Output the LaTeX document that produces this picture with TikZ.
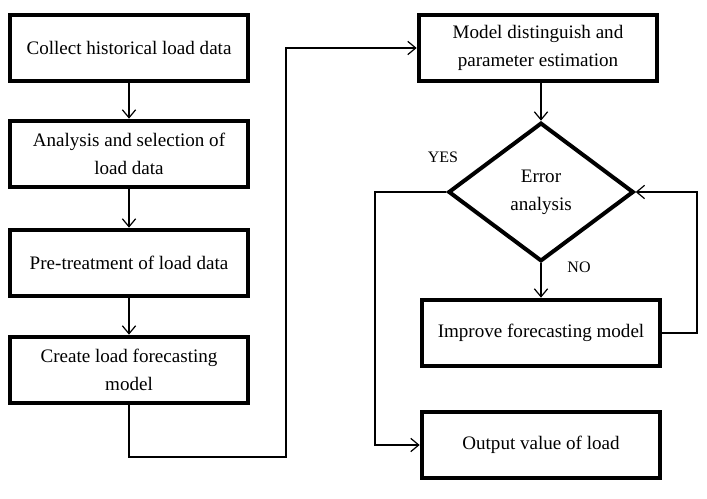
\documentclass[tikz,border=0pt]{standalone}
\usepackage{fontspec}
\setmainfont{Liberation Serif}
\usetikzlibrary{shapes.geometric,arrows.meta}

\tikzset{
  stepbox/.style={draw, line width=3pt, rectangle, align=center,
    minimum width=179pt, minimum height=50pt, inner sep=2pt,
    font=\fontsize{14.3}{21}\selectfont},
  checkbox/.style={draw, line width=3pt, diamond, align=center, inner sep=0pt,
    minimum width=139pt, minimum height=104pt,
    font=\fontsize{14.3}{21}\selectfont},
  conn/.style={line width=0.9pt, -{Straight Barb[length=6pt,width=10pt]}},
  tag/.style={font=\fontsize{12}{14}\selectfont}
}

\begin{document}
\begin{tikzpicture}[x=0.75pt,y=-0.75pt]
\useasboundingbox (0,0) rectangle (707,499);

% left column
\node[stepbox] (collect) at (129,48) {Collect historical load data};
\node[stepbox] (analysis) at (129,154) {Analysis and selection of\\ load data};
\node[stepbox] (pretreat) at (129,263) {Pre-treatment of load data};
\node[stepbox] (create) at (129,370) {Create load forecasting\\ model};

% right column
\node[stepbox] (model) at (538,48) {Model distinguish and\\ parameter estimation};
\node[checkbox] (err) at (541,192) {Error\\ analysis};
\node[stepbox] (improve) at (541,333) {Improve forecasting model};
\node[stepbox] (output) at (541,445) {Output value of load};

\node[tag] (yes) at (443,157) {YES};
\node[tag] (no) at (579,267) {NO};

\coordinate (turnA) at (129,457);
\coordinate (turnB) at (286,457);
\coordinate (yesturn) at (375,445);
\coordinate (noturn) at (697,333);

\draw[conn] (collect) -- (analysis);
\draw[conn] (analysis) -- (pretreat);
\draw[conn] (pretreat) -- (create);
\draw[conn] (create.south) -- (turnA) -- (turnB) |- (model.west);
\draw[conn] (model.south -| err.north) -- (err.north);
\draw[conn] (err.south) -- (improve.north);
\draw[conn] (err.west) -| (yesturn) -- (output.west);
\draw[conn] (improve.east) -- (noturn) |- (err.east);
\end{tikzpicture}
\end{document}
